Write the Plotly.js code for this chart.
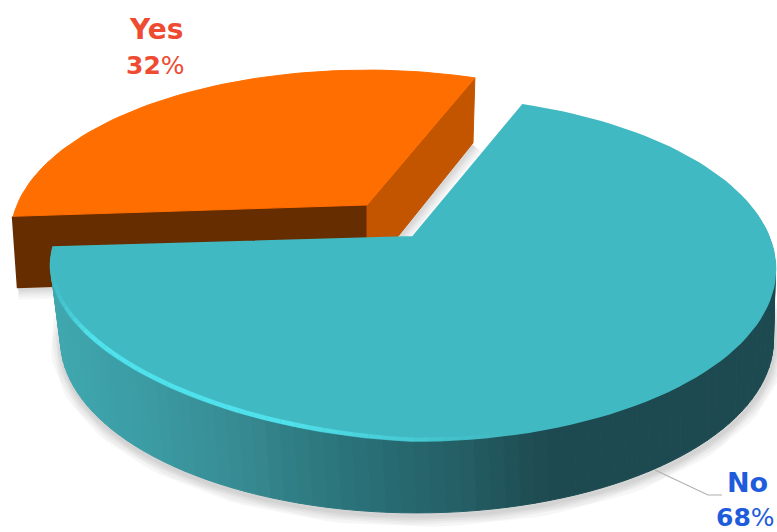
<!DOCTYPE html>
<html>
<head>
<meta charset="utf-8">
<script src="https://cdn.plot.ly/plotly-3.0.1.min.js"></script>
<style>html,body{margin:0;padding:0;background:#fff}#chart{width:777px;height:532px}</style>
</head>
<body>
<div id="chart"></div>
<script>
// Survey split
const categories = ['Yes', 'No'];
const shares = [32, 68];

const topTeal = '#41b9c2';
const rimGlow = [80, 226, 236];
const orangeTop = '#ff6e00';
const orangeFront = '#662d00';
const orangeSide = '#c45500';
const labelColors = ['#ee4b32', '#1f5cdc'];

// Perspective planes of the disc: a unit circle mapped to the page axes.
// "lift" pulls the front-left quarter of a plane slightly upward.
const topPlane = {x0: 413, y0: 237, R: 356, S: 166, k: 0.186, lift: 20};
const topOrange = {x0: 413, y0: 237, R: 350, S: 160, k: 0.186, lift: 0};
const baseTeal = {x0: 417, y0: 307, R: 350, S: 166.8, k: 0.19, lift: 0};
const baseOrange = {x0: 413, y0: 307, R: 345, S: 166.8, k: 0.19, lift: 0};
const pull = {dx: -46, dy: -32};
const seamDeg = 176;   // where the Yes slice begins, clockwise on the page

const rad = d => d * Math.PI / 180;
function onPlane(p, deg, off) {
  const X = Math.cos(rad(deg)), Y = Math.sin(rad(deg));
  const w = 1 - p.k * Y;
  const o = off || {dx: 0, dy: 0};
  const lift = (X < 0 && Y > 0) ? p.lift * X * Y : 0;
  return [p.x0 + p.R * X / w + o.dx, p.y0 + p.S * Y / w + o.dy + lift];
}
function centre(p, off) {
  const o = off || {dx: 0, dy: 0};
  return [p.x0 + o.dx, p.y0 + o.dy];
}
function arc(p, from, to, off) {
  const n = Math.max(2, Math.ceil(Math.abs(to - from) / 2));
  const pts = [];
  for (let i = 0; i <= n; i++) pts.push(onPlane(p, from + (to - from) * i / n, off));
  return pts;
}

const traces = [];
function polygon(pts, fill, lineWidth) {
  const closed = pts.concat([pts[0]]);
  traces.push({
    type: 'scatter', mode: 'lines', x: closed.map(q => q[0]), y: closed.map(q => q[1]),
    fill: 'toself', fillcolor: fill,
    line: {color: fill, width: lineWidth === undefined ? 1 : lineWidth, shape: 'linear'},
    hoverinfo: 'skip', showlegend: false
  });
}
function stroke(pts, color, width) {
  traces.push({
    type: 'scatter', mode: 'lines', x: pts.map(q => q[0]), y: pts.map(q => q[1]),
    line: {color: color, width: width}, hoverinfo: 'skip', showlegend: false
  });
}

const total = shares.reduce((a, b) => a + b, 0);
const yesSweep = shares[0] / total * 360;
const yesEnd = seamDeg + yesSweep;       // also the start of the No slice
const noEnd = yesEnd + shares[1] / total * 360;

// Soft drop shadows below both solids
const shadowTeal = arc(baseTeal, 190, -30).map(q => [q[0] + 1, q[1] + 3]);
const shadowOrange = [onPlane(baseOrange, seamDeg, pull), centre(baseOrange, pull), onPlane(baseOrange, yesEnd, pull)]
  .map(q => [q[0], q[1] + 2]);
[22, 17, 12, 8, 4].forEach(w => {
  stroke(shadowTeal, 'rgba(0,0,0,0.035)', w);
  stroke(shadowOrange, 'rgba(0,0,0,0.03)', w);
});

// Yes slice, pulled away from the disc
const yA = onPlane(topOrange, seamDeg, pull), yC = centre(topOrange, pull), yB = onPlane(topOrange, yesEnd, pull);
const bA = onPlane(baseOrange, seamDeg, pull), bC = centre(baseOrange, pull), bB = onPlane(baseOrange, yesEnd, pull);
polygon([yA, yC, bC, bA], orangeFront, 3);
polygon([yC, yB, bB, bC], orangeSide, 1);
polygon([yC].concat(arc(topOrange, seamDeg, yesEnd, pull)), orangeTop, 1);

// Wall of the No slice, shaded in thin strips from left to right
const wallStops = [[50, [64, 168, 176]], [140, [59, 156, 164]], [240, [55, 138, 146]], [300, [47, 124, 130]],
                   [370, [41, 110, 118]], [460, [36, 94, 100]], [550, [29, 74, 80]], [780, [29, 74, 80]]];
function wallColor(x) {
  for (let i = 1; i < wallStops.length; i++) {
    if (x <= wallStops[i][0]) {
      const a = wallStops[i - 1], b = wallStops[i];
      const t = Math.max(0, (x - a[0]) / (b[0] - a[0]));
      return 'rgb(' + a[1].map((c, j) => Math.round(c + (b[1][j] - c) * t)).join(',') + ')';
    }
  }
  return 'rgb(29,74,80)';
}
for (let a = seamDeg; a > -12; a -= 2) {
  const t0 = onPlane(topPlane, a), t1 = onPlane(topPlane, a - 2);
  const b0 = onPlane(baseTeal, a), b1 = onPlane(baseTeal, a - 2);
  polygon([t0, t1, b1, b0], wallColor((t0[0] + t1[0]) / 2), 1);
}

// Top face of the No slice
polygon([centre(topPlane)].concat(arc(topPlane, yesEnd, noEnd)), topTeal, 2);

// Light catching the front-left rim
const base = [65, 185, 194];
for (let a = 172; a > 50; a -= 2) {
  const p0 = onPlane(topPlane, a), p1 = onPlane(topPlane, a - 2);
  const mid = (p0[0] + p1[0]) / 2;
  const rise = Math.min(1, (mid - 50) / 40);
  const fade = mid < 280 ? 1 : Math.max(0, 1 - (mid - 280) / 220);
  const t = rise * fade;
  const c = base.map((v, j) => Math.round(v + (rimGlow[j] - v) * t));
  stroke([[p0[0] + 1, p0[1] - 1.5], [p1[0] + 1, p1[1] - 1.5]], 'rgb(' + c.join(',') + ')', 3 + 1.5 * t);
}

// Leader from the disc to the No label
const leaderX = [655, 708, 722];
const leaderY = [470, 495, 495];
traces.push({type: 'scatter', mode: 'lines', x: leaderX, y: leaderY,
  line: {color: '#b0b0b0', width: 1.2}, hoverinfo: 'skip', showlegend: false});

// Category and share labels
function label(text, x, y, size, color) {
  return {text: text, x: x, y: y, xref: 'x', yref: 'y', showarrow: false, xanchor: 'center', yanchor: 'middle',
          font: {family: '"DejaVu Sans", sans-serif', size: size, color: color}};
}
const annotations = [
  label('<b>' + categories[0] + '</b>', 156, 29, 28, labelColors[0]),
  label('<b>' + shares[0] + '</b>%', 155, 65, 25, labelColors[0]),
  label('<b>' + categories[1] + '</b>', 747, 482, 27, labelColors[1]),
  label('<b>' + shares[1] + '</b>%', 745, 517, 25, labelColors[1])
];

Plotly.newPlot('chart', traces, {
  width: 777, height: 532,
  margin: {l: 0, r: 0, t: 0, b: 0},
  paper_bgcolor: '#ffffff', plot_bgcolor: '#ffffff',
  showlegend: false,
  xaxis: {range: [0, 777], visible: false, fixedrange: true},
  yaxis: {range: [532, 0], visible: false, fixedrange: true},
  annotations: annotations
}, {displayModeBar: false, staticPlot: true});
</script>
</body>
</html>
